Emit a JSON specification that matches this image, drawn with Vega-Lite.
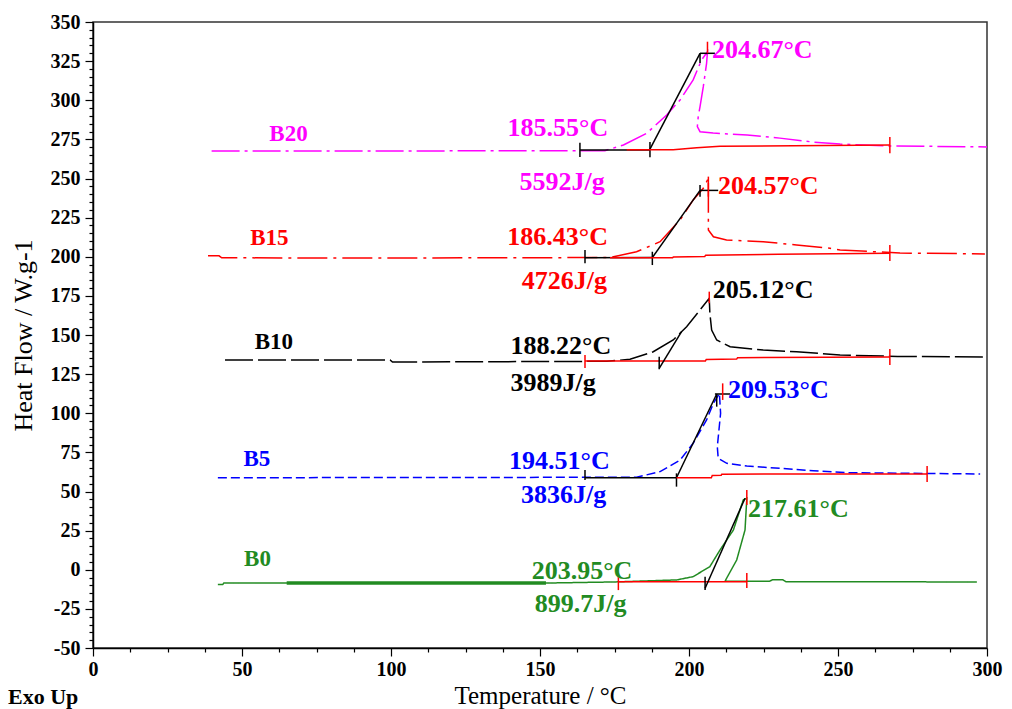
{
  "$schema": "https://vega.github.io/schema/vega-lite/v6.json",
  "width": 894,
  "height": 626,
  "autosize": {"type": "none"},
  "padding": {"left": 93, "top": 22, "right": 25, "bottom": 61},
  "background": "white",
  "title": {"text": "Exo Up", "orient": "bottom", "anchor": "start", "frame": "group", "dx": -85, "offset": -21, "font": "Liberation Serif", "fontSize": 22, "fontWeight": "bold", "color": "#000"},
  "datasets": {
    "curves": [
      {"series":"B20","x":39.8,"y":267.6},{"series":"B20","x":100,"y":267.6},{"series":"B20","x":171.8,"y":267.8},{"series":"B20","x":178,"y":271.4},{"series":"B20","x":185.8,"y":278.9},{"series":"B20","x":192.5,"y":290.6},{"series":"B20","x":197,"y":300.2},{"series":"B20","x":201.4,"y":313},{"series":"B20","x":204.2,"y":325.7},{"series":"B20","x":206.2,"y":331},{"series":"B20","x":205.9,"y":323.6},{"series":"B20","x":204.8,"y":308.7},{"series":"B20","x":203.7,"y":295.9},{"series":"B20","x":203.1,"y":289.5},{"series":"B20","x":202.8,"y":283.1},{"series":"B20","x":203.7,"y":279.9},{"series":"B20","x":208.1,"y":279},{"series":"B20","x":219.5,"y":277.8},{"series":"B20","x":230.5,"y":275.8},{"series":"B20","x":241.6,"y":273.3},{"series":"B20","x":250.7,"y":272},{"series":"B20","x":267.4,"y":270.8},{"series":"B20","x":300,"y":270.2},
      {"series":"B15","x":38.6,"y":200.6},{"series":"B15","x":42.3,"y":200.6},{"series":"B15","x":43.2,"y":199.3},{"series":"B15","x":100,"y":199.2},{"series":"B15","x":173.5,"y":199.5},{"series":"B15","x":182.4,"y":203.2},{"series":"B15","x":190.3,"y":209.6},{"series":"B15","x":197,"y":223.5},{"series":"B15","x":201.4,"y":236.3},{"series":"B15","x":204.8,"y":243.7},{"series":"B15","x":206.5,"y":250.1},{"series":"B15","x":206.5,"y":217.1},{"series":"B15","x":208.2,"y":212.8},{"series":"B15","x":212.6,"y":210.7},{"series":"B15","x":224.9,"y":209.6},{"series":"B15","x":236.1,"y":207.5},{"series":"B15","x":247.3,"y":205.4},{"series":"B15","x":250.7,"y":204.3},{"series":"B15","x":270.8,"y":202.4},{"series":"B15","x":299.3,"y":201.8},
      {"series":"B10","x":44.3,"y":134.1},{"series":"B10","x":99.7,"y":134.1},{"series":"B10","x":100.5,"y":132.7},{"series":"B10","x":172.4,"y":133.2},{"series":"B10","x":180.2,"y":134.5},{"series":"B10","x":188,"y":139.3},{"series":"B10","x":194.7,"y":146.8},{"series":"B10","x":199.2,"y":155.3},{"series":"B10","x":203.7,"y":166},{"series":"B10","x":206.8,"y":173.5},{"series":"B10","x":207,"y":163.9},{"series":"B10","x":207.6,"y":153.2},{"series":"B10","x":209.3,"y":146.8},{"series":"B10","x":213.8,"y":142.5},{"series":"B10","x":224.9,"y":140.4},{"series":"B10","x":236.1,"y":139.3},{"series":"B10","x":250.7,"y":137.2},{"series":"B10","x":270,"y":136.3},{"series":"B10","x":299.3,"y":136},
      {"series":"B5","x":41.9,"y":58.8},{"series":"B5","x":182.4,"y":59.1},{"series":"B5","x":190.3,"y":62.7},{"series":"B5","x":197,"y":70.1},{"series":"B5","x":201.4,"y":80.8},{"series":"B5","x":205.9,"y":95.7},{"series":"B5","x":208.2,"y":106.4},{"series":"B5","x":210.2,"y":112.7},{"series":"B5","x":210.6,"y":100},{"series":"B5","x":209.5,"y":78.6},{"series":"B5","x":209.8,"y":71.2},{"series":"B5","x":212.7,"y":68},{"series":"B5","x":219.4,"y":66.3},{"series":"B5","x":230.5,"y":64.8},{"series":"B5","x":241.7,"y":63.3},{"series":"B5","x":252.9,"y":62},{"series":"B5","x":297.7,"y":61.2},
      {"series":"B0","x":41.9,"y":-9.5},{"series":"B0","x":43.5,"y":-9.5},{"series":"B0","x":43.9,"y":-8.5},{"series":"B0","x":155,"y":-8.4},{"series":"B0","x":175,"y":-7.8},{"series":"B0","x":195.9,"y":-6.5},{"series":"B0","x":201.4,"y":-4.4},{"series":"B0","x":207,"y":2},{"series":"B0","x":210.4,"y":12.6},{"series":"B0","x":214.9,"y":25.4},{"series":"B0","x":218.2,"y":44.6},{"series":"B0","x":219.4,"y":45.7},{"series":"B0","x":218.8,"y":25.4},{"series":"B0","x":216,"y":6.2},{"series":"B0","x":212.6,"y":-5.5},{"series":"B0","x":212.1,"y":-7.4},{"series":"B0","x":227,"y":-7.4},{"series":"B0","x":228,"y":-6.4},{"series":"B0","x":231.5,"y":-6.4},{"series":"B0","x":232.5,"y":-7.6},{"series":"B0","x":296.6,"y":-7.8}
    ],
    "heavy": [
      {"series":"B0","x":65,"y":-8.5},{"series":"B0","x":152,"y":-8.4}
    ],
    "construction": [
      {"g":1,"series":"tangent","x":163.4,"y":268.2},{"g":1,"series":"tangent","x":186.9,"y":268.2},
      {"g":2,"series":"tangent","x":163.4,"y":263.8},{"g":2,"series":"tangent","x":163.4,"y":272.8},
      {"g":3,"series":"tangent","x":186.9,"y":263.6},{"g":3,"series":"tangent","x":186.9,"y":273.4},
      {"g":4,"series":"tangent","x":186.9,"y":268.8},{"g":4,"series":"tangent","x":203.7,"y":330},
      {"g":5,"series":"tangent","x":203.7,"y":330},{"g":5,"series":"tangent","x":208.7,"y":330},
      {"g":6,"series":"tangent","x":203.7,"y":330},{"g":6,"series":"tangent","x":203.7,"y":323.8},
      {"g":7,"series":"integral","x":179.1,"y":268.3},{"g":7,"series":"integral","x":194.7,"y":268.3},{"g":7,"series":"integral","x":202.6,"y":269.7},{"g":7,"series":"integral","x":210.4,"y":270.6},{"g":7,"series":"integral","x":267.4,"y":271.4},
      {"g":8,"series":"integral","x":267.4,"y":266.2},{"g":8,"series":"integral","x":267.4,"y":276.5},
      {"g":9,"series":"integral","x":206.2,"y":330},{"g":9,"series":"integral","x":206.2,"y":337.4},
      {"g":10,"series":"tangent","x":165.1,"y":199.3},{"g":10,"series":"tangent","x":187.7,"y":199.5},
      {"g":11,"series":"tangent","x":165.1,"y":195.8},{"g":11,"series":"tangent","x":165.1,"y":204.3},
      {"g":12,"series":"tangent","x":187.7,"y":194.7},{"g":12,"series":"tangent","x":187.7,"y":203.2},
      {"g":13,"series":"tangent","x":187.7,"y":199.5},{"g":13,"series":"tangent","x":203.7,"y":242.4},
      {"g":14,"series":"tangent","x":203.7,"y":242.4},{"g":14,"series":"tangent","x":209.8,"y":242.4},
      {"g":15,"series":"tangent","x":203.7,"y":238.4},{"g":15,"series":"tangent","x":203.7,"y":245.8},
      {"g":16,"series":"integral","x":173.5,"y":199.3},{"g":16,"series":"integral","x":194.5,"y":199.4},{"g":16,"series":"integral","x":194.8,"y":199.9},{"g":16,"series":"integral","x":205.3,"y":200.2},{"g":16,"series":"integral","x":205.6,"y":201},{"g":16,"series":"integral","x":230,"y":201.6},{"g":16,"series":"integral","x":267.4,"y":202.3},
      {"g":17,"series":"integral","x":267.4,"y":197.3},{"g":17,"series":"integral","x":267.4,"y":207.5},
      {"g":18,"series":"integral","x":206.5,"y":238.4},{"g":18,"series":"integral","x":206.5,"y":251.2},
      {"g":19,"series":"integral","x":165.1,"y":133.4},{"g":19,"series":"integral","x":205.5,"y":133.4},{"g":19,"series":"integral","x":205.8,"y":134.4},{"g":19,"series":"integral","x":216,"y":134.6},{"g":19,"series":"integral","x":216.3,"y":135.5},{"g":19,"series":"integral","x":267.4,"y":136},
      {"g":20,"series":"integral","x":165.1,"y":128.9},{"g":20,"series":"integral","x":165.1,"y":137.2},
      {"g":21,"series":"integral","x":267.4,"y":130.8},{"g":21,"series":"integral","x":267.4,"y":141},
      {"g":22,"series":"tangent","x":190,"y":128.7},{"g":22,"series":"tangent","x":197.5,"y":152.1},
      {"g":23,"series":"tangent","x":190,"y":128.1},{"g":23,"series":"tangent","x":190,"y":136.1},
      {"g":24,"series":"integral","x":206.8,"y":170.3},{"g":24,"series":"integral","x":206.8,"y":177.7},
      {"g":25,"series":"tangent","x":165.1,"y":58.8},{"g":25,"series":"tangent","x":195.8,"y":58.8},
      {"g":26,"series":"tangent","x":165.1,"y":57.3},{"g":26,"series":"tangent","x":165.1,"y":63.7},
      {"g":27,"series":"tangent","x":195.8,"y":53.1},{"g":27,"series":"tangent","x":195.8,"y":61.6},
      {"g":28,"series":"tangent","x":195.8,"y":58.8},{"g":28,"series":"tangent","x":209.3,"y":112.3},
      {"g":29,"series":"tangent","x":208.7,"y":112.3},{"g":29,"series":"tangent","x":213.8,"y":112.3},
      {"g":30,"series":"tangent","x":209.3,"y":104.2},{"g":30,"series":"tangent","x":209.3,"y":112.3},
      {"g":31,"series":"integral","x":195.8,"y":58.8},{"g":31,"series":"integral","x":207.5,"y":58.8},{"g":31,"series":"integral","x":207.8,"y":60.2},{"g":31,"series":"integral","x":210.8,"y":60.3},{"g":31,"series":"integral","x":211,"y":61.1},{"g":31,"series":"integral","x":279.9,"y":61.2},
      {"g":32,"series":"integral","x":279.9,"y":56.1},{"g":32,"series":"integral","x":279.9,"y":66.3},
      {"g":33,"series":"integral","x":211.3,"y":108.5},{"g":33,"series":"integral","x":211.3,"y":119.1},
      {"g":34,"series":"integral","x":176.3,"y":-7.6},{"g":34,"series":"integral","x":219.4,"y":-7.6},
      {"g":35,"series":"integral","x":176.3,"y":-13},{"g":35,"series":"integral","x":176.3,"y":-3.4},
      {"g":36,"series":"integral","x":219.4,"y":-11.7},{"g":36,"series":"integral","x":219.4,"y":-2.1},
      {"g":37,"series":"integral","x":219.4,"y":41.4},{"g":37,"series":"integral","x":219.4,"y":51},
      {"g":38,"series":"tangent","x":205.4,"y":-11.8},{"g":38,"series":"tangent","x":218.8,"y":45.7},
      {"g":39,"series":"tangent","x":205.4,"y":-12.9},{"g":39,"series":"tangent","x":205.4,"y":-4.4}
    ],
    "labels": [
      {"series":"B20","role":"peak","x":207.7,"y":332.1,"t":"204.67°C"},
      {"series":"B15","role":"peak","x":209.7,"y":245.1,"t":"204.57°C"},
      {"series":"B10","role":"peak","x":208,"y":178.8,"t":"205.12°C"},
      {"series":"B5","role":"peak","x":213.1,"y":114.9,"t":"209.53°C"},
      {"series":"B0","role":"peak","x":219.8,"y":38.8,"t":"217.61°C"},
      {"series":"B20","role":"onset","x":156,"y":282.3,"t":"185.55°C"},
      {"series":"B20","role":"enthalpy","x":157.4,"y":247.8,"t":"5592J/g"},
      {"series":"B15","role":"onset","x":155.9,"y":212.6,"t":"186.43°C"},
      {"series":"B15","role":"enthalpy","x":158.2,"y":184.5,"t":"4726J/g"},
      {"series":"B10","role":"onset","x":157,"y":143,"t":"188.22°C"},
      {"series":"B10","role":"enthalpy","x":154.4,"y":119.3,"t":"3989J/g"},
      {"series":"B5","role":"onset","x":156.5,"y":69.5,"t":"194.51°C"},
      {"series":"B5","role":"enthalpy","x":157.9,"y":47.8,"t":"3836J/g"},
      {"series":"B0","role":"onset","x":164.1,"y":-0.8,"t":"203.95°C"},
      {"series":"B0","role":"enthalpy","x":163.6,"y":-21.9,"t":"899.7J/g"},
      {"series":"B20","role":"name","x":65.6,"y":278.4,"t":"B20"},
      {"series":"B15","role":"name","x":59.2,"y":212,"t":"B15"},
      {"series":"B10","role":"name","x":60.7,"y":145.5,"t":"B10"},
      {"series":"B5","role":"name","x":55,"y":70.8,"t":"B5"},
      {"series":"B0","role":"name","x":55.2,"y":6.9,"t":"B0"}
    ]
  },
  "encoding": {
    "x": {"field": "x", "type": "quantitative", "scale": {"domain": [0, 300], "nice": false, "zero": false},
      "axis": {"title": "Temperature / °C", "values": [0,12.5,25,37.5,50,62.5,75,87.5,100,112.5,125,137.5,150,162.5,175,187.5,200,212.5,225,237.5,250,262.5,275,287.5,300],
        "labelExpr": "datum.value % 50 === 0 ? toString(datum.value) : ''",
        "tickSize": {"condition": {"test": "datum.value % 50 === 0", "value": 8}, "value": 4},
        "labelOverlap": false, "labelFlush": false, "labelPadding": 3,
        "titleFontSize": 25, "titleFontWeight": "normal", "titlePadding": 4}},
    "y": {"field": "y", "type": "quantitative", "scale": {"domain": [-50, 350], "nice": false, "zero": false},
      "axis": {"title": "Heat Flow / W.g-1", "values": [-50,-45,-40,-35,-30,-25,-20,-15,-10,-5,0,5,10,15,20,25,30,35,40,45,50,55,60,65,70,75,80,85,90,95,100,105,110,115,120,125,130,135,140,145,150,155,160,165,170,175,180,185,190,195,200,205,210,215,220,225,230,235,240,245,250,255,260,265,270,275,280,285,290,295,300,305,310,315,320,325,330,335,340,345,350],
        "labelExpr": "datum.value % 25 === 0 ? toString(datum.value) : ''",
        "tickSize": {"condition": {"test": "datum.value % 25 === 0", "value": 8}, "value": 4},
        "labelOverlap": false, "labelFlush": false, "labelPadding": 5,
        "titleFontSize": 26, "titleFontWeight": "normal", "titlePadding": 14}}
  },
  "layer": [
    {
      "data": {"name": "curves"},
      "mark": {"type": "line", "strokeWidth": 1.5},
      "encoding": {
        "color": {"field": "series", "type": "nominal", "legend": null,
          "scale": {"domain": ["B0","B5","B10","B15","B20","tangent","integral"], "range": ["#228B22","#0000FF","#000000","#FF0000","#FF00FF","#000000","#FF0000"]}},
        "strokeDash": {"field": "series", "type": "nominal", "legend": null,
          "scale": {"domain": ["B0","B5","B10","B15","B20"], "range": [[1,0],[9,4],[28,5],[30,6,3,6],[28,5,3,5]]}},
        "order": {"value": null}
      }
    },
    {
      "data": {"name": "heavy"},
      "mark": {"type": "line", "strokeWidth": 3.5},
      "encoding": {
        "color": {"field": "series", "type": "nominal", "legend": null},
        "order": {"value": null}
      }
    },
    {
      "data": {"name": "construction"},
      "mark": {"type": "line", "strokeWidth": 1.5},
      "encoding": {
        "color": {"field": "series", "type": "nominal", "legend": null},
        "detail": {"field": "g", "type": "nominal"},
        "order": {"value": null}
      }
    },
    {
      "data": {"name": "labels"},
      "transform": [{"filter": "datum.role === 'peak'"}],
      "mark": {"type": "text", "align": "left", "baseline": "middle", "font": "Liberation Serif", "fontWeight": "bold", "fontSize": 26},
      "encoding": {
        "text": {"field": "t"},
        "color": {"field": "series", "type": "nominal", "legend": null}
      }
    },
    {
      "data": {"name": "labels"},
      "transform": [{"filter": "datum.role === 'onset' || datum.role === 'enthalpy'"}],
      "mark": {"type": "text", "align": "center", "baseline": "middle", "font": "Liberation Serif", "fontWeight": "bold", "fontSize": 26},
      "encoding": {
        "text": {"field": "t"},
        "color": {"field": "series", "type": "nominal", "legend": null}
      }
    },
    {
      "data": {"name": "labels"},
      "transform": [{"filter": "datum.role === 'name'"}],
      "mark": {"type": "text", "align": "center", "baseline": "middle", "font": "Liberation Serif", "fontWeight": "bold", "fontSize": 23},
      "encoding": {
        "text": {"field": "t"},
        "color": {"field": "series", "type": "nominal", "legend": null}
      }
    }
  ],
  "config": {
    "view": {"stroke": "#333333", "strokeWidth": 1.5},
    "axis": {"grid": false, "domainColor": "#000000", "domainWidth": 1.5, "tickColor": "#000000", "tickWidth": 1.2,
      "labelColor": "#000000", "titleColor": "#000000", "labelFont": "Liberation Serif", "titleFont": "Liberation Serif",
      "labelFontWeight": "bold", "labelFontSize": 20}
  }
}
